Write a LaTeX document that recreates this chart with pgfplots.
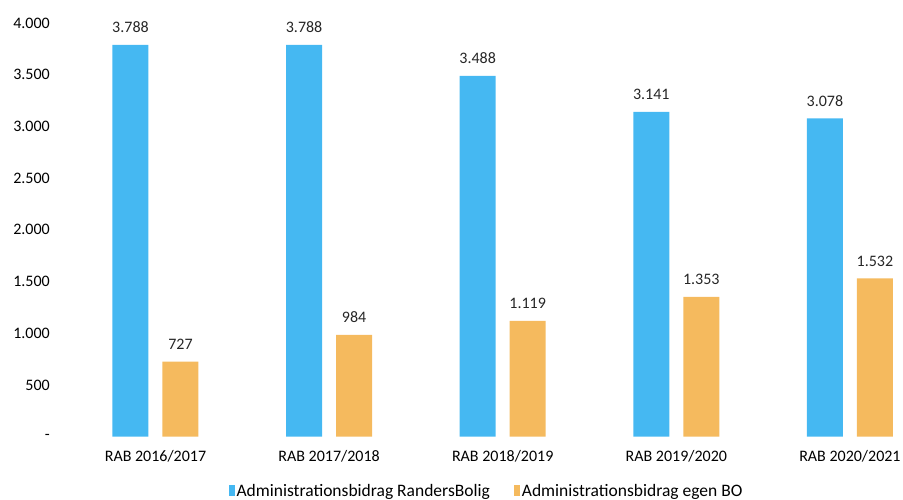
\documentclass[border=0pt]{standalone}
\usepackage{fontspec}
\setmainfont{Carlito}
\usepackage{pgfplots}
\pgfplotsset{compat=1.18}
\definecolor{cblue}{RGB}{69,184,242}
\definecolor{corange}{RGB}{245,186,94}
\begin{document}
\begin{tikzpicture}
\useasboundingbox (0,0) rectangle (903pt,499pt);
\begin{axis}[
  at={(60pt,62.3pt)}, anchor=south west,
  scale only axis, width=842pt, height=413.7pt,
  xmin=-0.55, xmax=4.3, ymin=0, ymax=4000,
  ybar, bar width=36pt,
  axis line style={draw=none}, tick style={draw=none},
  major tick length=0pt,
  clip=false,
  /pgf/number format/assume math mode=true,
  font=\fontsize{16pt}{19pt}\selectfont,
  xtick={0,1,2,3,4},
  xticklabels={RAB 2016/2017,RAB 2017/2018,RAB 2018/2019,RAB 2019/2020,RAB 2020/2021},
  xticklabel style={anchor=base, inner sep=0pt, yshift=-24.5pt},
  ytick={0,500,1000,1500,2000,2500,3000,3500,4000},
  yticklabels={-\hspace{7pt},500,1.000,1.500,2.000,2.500,3.000,3.500,4.000},
  yticklabel style={anchor=east, inner sep=0pt, xshift=-10pt},
  nodes near coords={\pgfmathprintnumber[fixed,precision=0,1000 sep={.}]{\pgfplotspointmeta}},
  nodes near coords style={anchor=base, inner sep=0pt, yshift=12pt, text=black!85},
  legend style={draw=none, at={(axis description cs:0.5065,-0.131)}, anchor=center,
    legend columns=2, font=\fontsize{17.5pt}{20pt}\selectfont,
    /tikz/every even column/.append style={column sep=22pt}},
  legend image code/.code={\fill[#1] (0pt,-5.5pt) rectangle (6pt,5.5pt);},
  every axis plot/.append style={draw=none},
]
\addplot[fill=cblue, bar shift=-25pt] coordinates {(0,3788) (1,3788) (2,3488) (3,3141) (4,3078)};
\addplot[fill=corange, bar shift=25pt] coordinates {(0,727) (1,984) (2,1119) (3,1353) (4,1532)};
\legend{Administrationsbidrag RandersBolig, Administrationsbidrag egen BO}
\end{axis}
\end{tikzpicture}
\end{document}
